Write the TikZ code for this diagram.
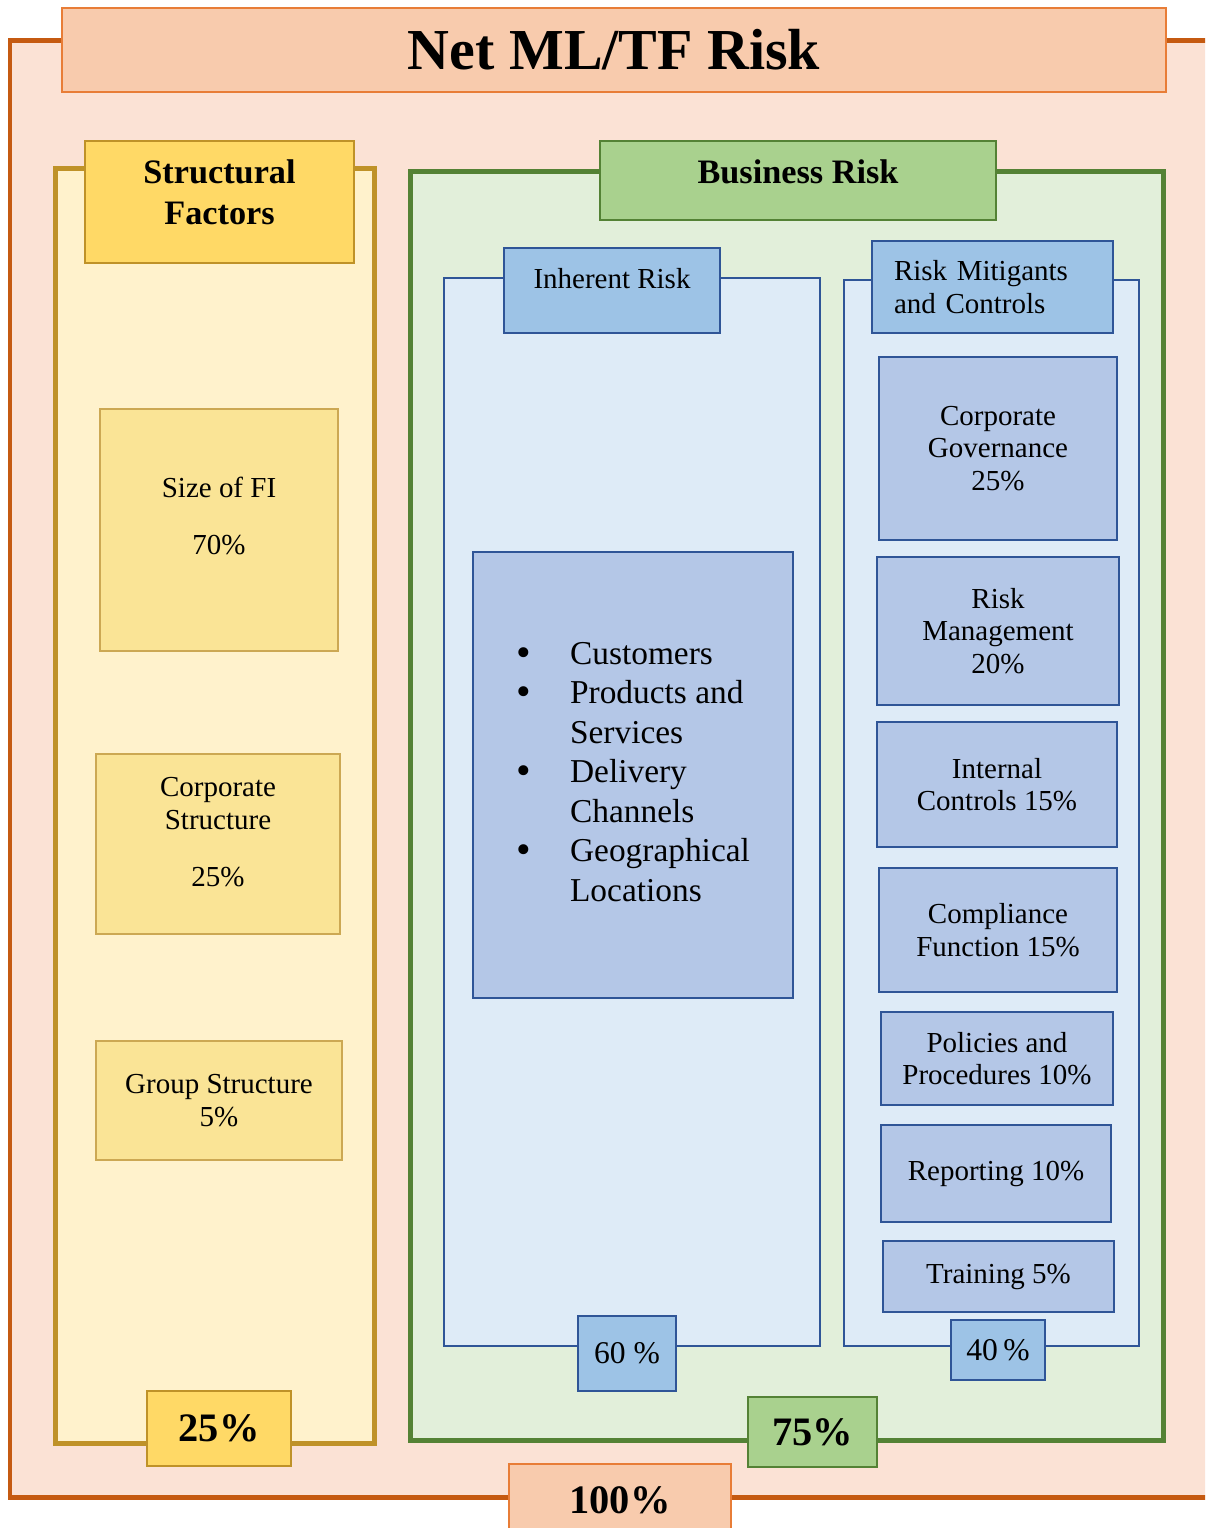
\documentclass[tikz,border=0pt]{standalone}
\usepackage{fontspec}
\setmainfont{Liberation Serif}
\definecolor{netline}{RGB}{197,90,17}
\definecolor{netfill}{RGB}{251,226,213}
\definecolor{netbox}{RGB}{248,203,173}
\definecolor{netdraw}{RGB}{232,125,55}
\definecolor{sfline}{RGB}{191,146,40}
\definecolor{sffill}{RGB}{255,242,204}
\definecolor{sfhead}{RGB}{255,217,102}
\definecolor{sfbox}{RGB}{250,228,150}
\definecolor{brline}{RGB}{84,130,53}
\definecolor{brfill}{RGB}{226,239,218}
\definecolor{brhead}{RGB}{169,209,142}
\definecolor{blline}{RGB}{47,85,151}
\definecolor{blfill}{RGB}{222,235,247}
\definecolor{blhead}{RGB}{157,195,230}
\definecolor{blbox}{RGB}{180,199,231}
\newcommand{\riskbody}{\fontsize{16.5}{18.5}\selectfont}
\newcommand{\riskhead}{\fontsize{19.5}{23}\selectfont\bfseries}
\newcommand{\riskpct}{\fontsize{23}{26}\selectfont\bfseries}
\newcommand{\riskdot}{\raisebox{-0.06em}{\scalebox{1.25}{\textbullet}}}

\begin{document}
\begin{tikzpicture}[x=0.02cm, y=-0.02cm,
    frame/.style={line width=0.1cm},
    box/.style={draw, line width=0.7pt, align=center, inner sep=0pt, font=\riskbody},
    sfitem/.style={box, draw=sfline!80, fill=sfbox},
    blitem/.style={box, draw=blline, fill=blbox},
    bltag/.style={box, draw=blline, fill=blhead}
  ]
  \useasboundingbox (0,0) rectangle (1205,1528);
  \clip (0,0) rectangle (1205,1528);

  % Net risk
  \draw[frame, draw=netline, fill=netfill] (10,40) rectangle (1220,1497);
  \node[box, draw=netdraw, fill=netbox, minimum width=22.08cm, minimum height=1.68cm,
    font=\fontsize{33}{36}\selectfont\bfseries] (title) at (614,50) {Net ML/TF Risk};

  % Structural factors
  \draw[frame, draw=sfline, fill=sffill] (55,168) rectangle (374,1443);
  \node[box, draw=sfline, fill=sfhead, minimum width=5.38cm, minimum height=2.44cm,
    font=\riskhead, text depth=0.4cm] (sfhd) at (219.5,202) {Structural\\Factors};
  \node[sfitem, minimum width=4.76cm, minimum height=4.84cm, text depth=16pt] (sizefi)
    at (219,530) {Size of FI\\[14pt]70\%};
  \node[sfitem, minimum width=4.88cm, minimum height=3.6cm, text depth=14pt] (corpstr)
    at (218,844) {Corporate\\Structure\\[14pt]25\%};
  \node[sfitem, minimum width=4.92cm, minimum height=2.38cm] (grpstr) at (219,1100.5)
    {Group Structure\\5\%};
  \node[box, draw=sfline, fill=sfhead, minimum width=2.88cm, minimum height=1.5cm,
    font=\riskpct] (sfpct) at (219,1428.5) {25\%};

  % Business risk
  \draw[frame, draw=brline, fill=brfill] (410,171) rectangle (1163,1440);
  \node[box, draw=brline, fill=brhead, minimum width=7.92cm, minimum height=1.58cm,
    font=\riskhead, text depth=9.7pt] (brhd) at (798,180.5) {Business Risk};

  % Inherent risk
  \draw[line width=0.7pt, draw=blline, fill=blfill] (444,278) rectangle (820,1346);
  \node[bltag, minimum width=4.32cm, minimum height=1.7cm, text depth=13.6pt]
    (irhd) at (612,290.5) {Inherent Risk};
  \node[blitem, minimum width=6.4cm, minimum height=8.92cm, align=left,
    font=\fontsize{19}{22.5}\selectfont] (irlist) at (633,775) {%
    \begin{tabular}{@{}p{1.08cm}@{}l@{}}
      \riskdot & Customers\\
      \riskdot & Products and\\
               & Services\\
      \riskdot & Delivery\\
               & Channels\\
      \riskdot & Geographical\\
               & Locations
    \end{tabular}};
  \node[bltag, minimum width=1.96cm, minimum height=1.5cm, font=\fontsize{18}{20}\selectfont]
    (irpct) at (627,1353.5) {60 \%};

  % Mitigants and controls
  \draw[line width=0.7pt, draw=blline, fill=blfill] (844,280) rectangle (1139,1346);
  \node[bltag, minimum width=4.82cm, minimum height=1.84cm, align=left,
    text width=3.94cm, inner xsep=0.44cm] (rmhd) at (992.5,287)
    {Risk Mitigants\\and Controls};
  \node[blitem, minimum width=4.76cm, minimum height=3.66cm] (corpgov) at (998,448.5)
    {Corporate\\Governance\\25\%};
  \node[blitem, minimum width=4.84cm, minimum height=2.96cm] (riskmgt) at (998,631)
    {Risk\\Management\\20\%};
  \node[blitem, minimum width=4.8cm, minimum height=2.5cm] (intctl) at (997,784.5)
    {Internal\\Controls 15\%};
  \node[blitem, minimum width=4.76cm, minimum height=2.48cm] (compl) at (998,930)
    {Compliance\\Function 15\%};
  \node[blitem, minimum width=4.64cm, minimum height=1.86cm] (polproc) at (997,1058.5)
    {Policies and\\Procedures 10\%};
  \node[blitem, minimum width=4.6cm, minimum height=1.94cm] (report) at (996,1173.5)
    {Reporting 10\%};
  \node[blitem, minimum width=4.62cm, minimum height=1.42cm] (train) at (998.5,1276.5)
    {Training 5\%};
  \node[bltag, minimum width=1.88cm, minimum height=1.2cm, font=\fontsize{18}{20}\selectfont]
    (rmpct) at (998,1350) {40\,\%};

  \node[box, draw=brline, fill=brhead, minimum width=2.58cm, minimum height=1.4cm,
    font=\riskpct] (brpct) at (812.5,1432) {75\%};

  % Total
  \node[box, draw=netdraw, fill=netbox, minimum width=4.44cm, minimum height=1.44cm,
    font=\riskpct] (netpct) at (620,1500) {100\%};
\end{tikzpicture}
\end{document}
